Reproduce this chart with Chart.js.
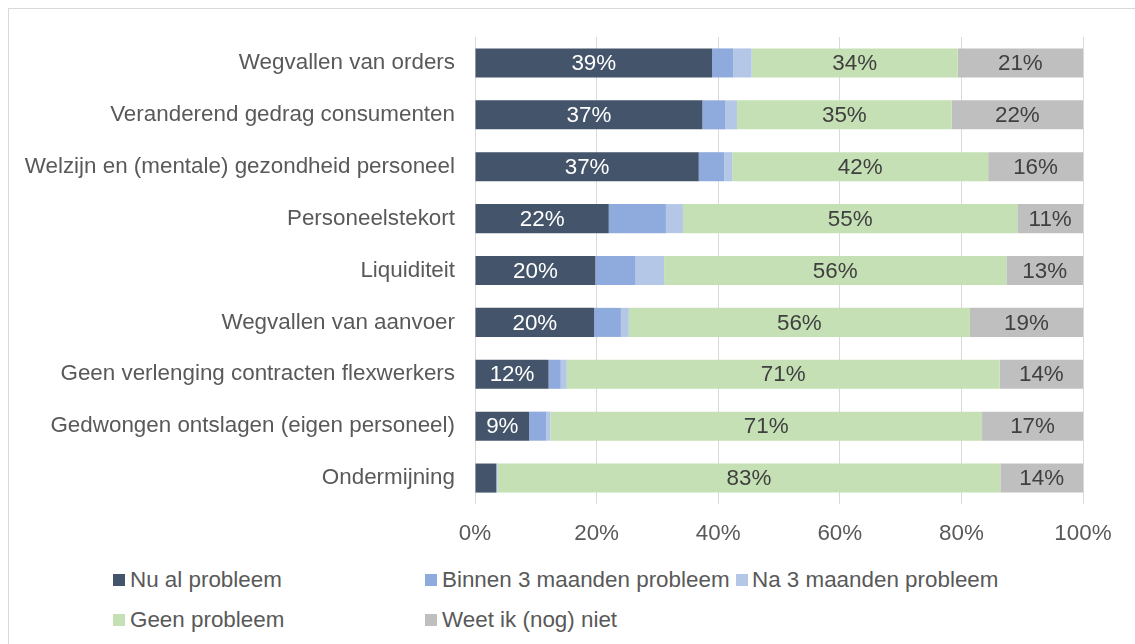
<!DOCTYPE html>
<html>
<head>
<meta charset="utf-8">
<script src="https://cdn.jsdelivr.net/npm/chart.js@4.4.0/dist/chart.umd.min.js"></script>
<style>
  body { margin: 0; background: #fff; font-family: "Liberation Sans", Arial, sans-serif; }
  #frame { position: absolute; left: 8px; top: 8px; width: 1140px; height: 650px; border: 1px solid #d9d9d9; }
  #wrap { position: absolute; left: 0; top: 0; width: 1135px; height: 550px; }
  #legend { position: absolute; left: 0; top: 560px; width: 1135px; height: 84px; }
  .item { position: absolute; height: 24px; font-size: 22.4px; color: #595959; white-space: nowrap; line-height: 24px; }
  .box { position: absolute; width: 12px; height: 12px; }
</style>
</head>
<body>
<div id="frame"></div>
<div id="wrap"><canvas id="chart"></canvas></div>
<div id="legend"></div>
<script>
// categories (top to bottom)
const categories = [
  'Wegvallen van orders',
  'Veranderend gedrag consumenten',
  'Welzijn en (mentale) gezondheid personeel',
  'Personeelstekort',
  'Liquiditeit',
  'Wegvallen van aanvoer',
  'Geen verlenging contracten flexwerkers',
  'Gedwongen ontslagen (eigen personeel)',
  'Ondermijning'
];

// series values in %
const nuAl     = [39.0, 37.4, 36.8, 22.0, 19.8, 19.6, 12.1,  8.9,  3.5];
const binnen3  = [ 3.5,  3.8,  4.2,  9.4,  6.6,  4.4,  2.0,  2.8,  0.1];
const na3      = [ 3.0,  1.9,  1.3,  2.8,  4.7,  1.3,  1.0,  0.7,  0.1];
const geen     = [33.9, 35.3, 42.1, 55.0, 56.3, 56.1, 71.2, 71.0, 82.7];
const weetNiet = [20.6, 21.6, 15.6, 10.8, 12.6, 18.6, 13.7, 16.6, 13.6];

const xTicks = [0, 20, 40, 60, 80, 100];

const seriesNames = ['Nu al probleem', 'Binnen 3 maanden probleem', 'Na 3 maanden probleem', 'Geen probleem', 'Weet ik (nog) niet'];
const seriesColors = ['#44546A', '#8FAADC', '#B4C7E7', '#C5E0B4', '#BFBFBF'];
const labelColors = ['#ffffff', null, null, '#404040', '#404040'];
const allSeries = [nuAl, binnen3, na3, geen, weetNiet];

const FONT = '"Liberation Sans", Arial, sans-serif';
const FSIZE = 22.4;

// draws the percentages inside the bar segments
const segmentLabels = {
  id: 'segmentLabels',
  afterDatasetsDraw(chart) {
    const ctx = chart.ctx;
    ctx.save();
    ctx.font = FSIZE + 'px ' + FONT;
    ctx.textAlign = 'center';
    ctx.textBaseline = 'middle';
    chart.data.datasets.forEach((ds, i) => {
      if (!labelColors[i]) return;
      const meta = chart.getDatasetMeta(i);
      meta.data.forEach((bar, j) => {
        const v = ds.data[j];
        if (v < 5) return;
        ctx.fillStyle = labelColors[i];
        ctx.fillText(Math.round(v) + '%', (bar.x + bar.base) / 2, bar.y + 1);
      });
    });
    ctx.restore();
  }
};

const chart = new Chart(document.getElementById('chart'), {
  type: 'bar',
  data: {
    labels: categories,
    datasets: allSeries.map((d, i) => ({
      label: seriesNames[i],
      data: d,
      backgroundColor: seriesColors[i],
      borderWidth: 0,
      barPercentage: 0.56,
      categoryPercentage: 1
    }))
  },
  options: {
    indexAxis: 'y',
    responsive: true,
    maintainAspectRatio: false,
    animation: false,
    layout: { padding: { top: 37, right: 52, left: 0, bottom: 0 } },
    plugins: {
      legend: { display: false },
      tooltip: { enabled: false }
    },
    scales: {
      x: {
        stacked: true,
        min: 0,
        max: 100,
        afterBuildTicks(scale) { scale.ticks = xTicks.map(v => ({ value: v })); },
        afterFit(scale) { scale.height = 46; },
        ticks: {
          callback: v => v + '%',
          color: '#595959',
          font: { size: FSIZE, family: FONT },
          padding: 16,
          maxRotation: 0
        },
        grid: { color: '#d9d9d9', drawTicks: false },
        border: { display: false }
      },
      y: {
        stacked: true,
        afterFit(scale) { scale.width = 475; },
        ticks: {
          color: '#595959',
          font: { size: FSIZE, family: FONT },
          padding: 20
        },
        grid: { display: false, drawTicks: false },
        border: { display: false }
      }
    }
  },
  plugins: [segmentLabels]
});

// legend laid out in two rows like the original: [box x, text x, row centre y]
const legendPos = [[113, 130, 580], [425, 442, 580], [736, 752, 580], [113, 130, 620], [425, 442, 620]];
const legend = document.getElementById('legend');
seriesNames.forEach((name, i) => {
  const [bx, tx, cy] = legendPos[i];
  const box = document.createElement('div');
  box.className = 'box';
  box.style.left = bx + 'px';
  box.style.top = (cy - 560 - 6) + 'px';
  box.style.background = seriesColors[i];
  legend.appendChild(box);
  const el = document.createElement('div');
  el.className = 'item';
  el.style.left = tx + 'px';
  el.style.top = (cy - 560 - 12) + 'px';
  el.textContent = name;
  legend.appendChild(el);
});
</script>
</body>
</html>
